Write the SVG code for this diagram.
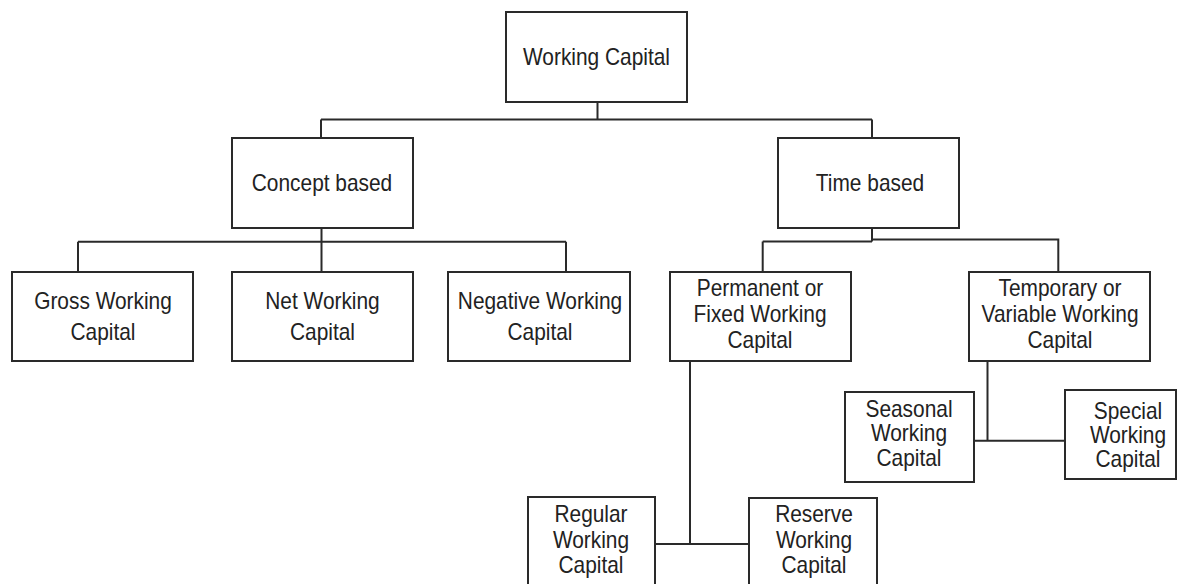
<svg xmlns="http://www.w3.org/2000/svg" width="1178" height="584" viewBox="0 0 1178 584">
<style>
rect { fill: #ffffff; stroke: #2a2a2a; stroke-width: 2; }
.c { fill: none; stroke: #2a2a2a; stroke-width: 2; }
text { font-family: "Liberation Sans", Arial, sans-serif; font-size: 24px; fill: #222222; text-anchor: middle; }
</style>
<rect x="0" y="0" width="1178" height="584" style="fill:#ffffff;stroke:none"/>
<g id="connectors">
<path class="c" d="M597.5 102 V119.5 M321 119.5 H872 M321 119.5 V138 M872 119.5 V138"/>
<path class="c" d="M321.5 228 V241.7 M78 241.7 H566 M78 241.7 V272 M321.5 241.7 V272 M566 241.7 V272"/>
<path class="c" d="M872 228 V241.5 M762.7 241.5 H872 M762.7 241.5 V272 M872 239.5 H1058.3 V272"/>
<path class="c" d="M690 361 V544 M655 544 H749"/>
<path class="c" d="M987.5 361 V440.7 M974 440.7 H1065"/>
</g>
<g id="working-capital">
<rect x="506" y="12" width="181" height="90"/>
<text transform="translate(596.5 65) scale(0.87 1)">Working Capital</text>
</g>
<g id="concept-based">
<rect x="232" y="138" width="181" height="90"/>
<text transform="translate(322 191) scale(0.87 1)">Concept based</text>
</g>
<g id="time-based">
<rect x="778" y="138" width="181" height="90"/>
<text transform="translate(870 191) scale(0.87 1)">Time based</text>
</g>
<g id="gross">
<rect x="12" y="272" width="181" height="89"/>
<text transform="translate(103 308.5) scale(0.87 1)"><tspan x="0">Gross Working</tspan><tspan x="0" dy="31.5">Capital</tspan></text>
</g>
<g id="net">
<rect x="232" y="272" width="181" height="89"/>
<text transform="translate(322.5 308.5) scale(0.87 1)"><tspan x="0">Net Working</tspan><tspan x="0" dy="31.5">Capital</tspan></text>
</g>
<g id="negative">
<rect x="448" y="272" width="182" height="89"/>
<text transform="translate(540 308.5) scale(0.87 1)"><tspan x="0">Negative Working</tspan><tspan x="0" dy="31.5">Capital</tspan></text>
</g>
<g id="permanent">
<rect x="670" y="272" width="181" height="89"/>
<text transform="translate(760 296) scale(0.87 1)"><tspan x="0">Permanent or</tspan><tspan x="0" dy="26">Fixed Working</tspan><tspan x="0" dy="26">Capital</tspan></text>
</g>
<g id="temporary">
<rect x="969" y="272" width="181" height="89"/>
<text transform="translate(1060 296) scale(0.87 1)"><tspan x="0">Temporary or</tspan><tspan x="0" dy="26">Variable Working</tspan><tspan x="0" dy="26">Capital</tspan></text>
</g>
<g id="seasonal">
<rect x="845" y="392" width="129" height="90"/>
<text transform="translate(909 417) scale(0.87 1)"><tspan x="0">Seasonal</tspan><tspan x="0" dy="24.3">Working</tspan><tspan x="0" dy="24.3">Capital</tspan></text>
</g>
<g id="special">
<rect x="1065" y="390" width="111" height="89"/>
<text transform="translate(1128 418.5) scale(0.87 1)"><tspan x="0">Special</tspan><tspan x="0" dy="24.3">Working</tspan><tspan x="0" dy="24.3">Capital</tspan></text>
</g>
<g id="regular">
<rect x="528" y="497" width="127" height="95"/>
<text transform="translate(591 522) scale(0.87 1)"><tspan x="0">Regular</tspan><tspan x="0" dy="25.7">Working</tspan><tspan x="0" dy="25.7">Capital</tspan></text>
</g>
<g id="reserve">
<rect x="749" y="498" width="128" height="95"/>
<text transform="translate(814 522) scale(0.87 1)"><tspan x="0">Reserve</tspan><tspan x="0" dy="25.7">Working</tspan><tspan x="0" dy="25.7">Capital</tspan></text>
</g>
</svg>
